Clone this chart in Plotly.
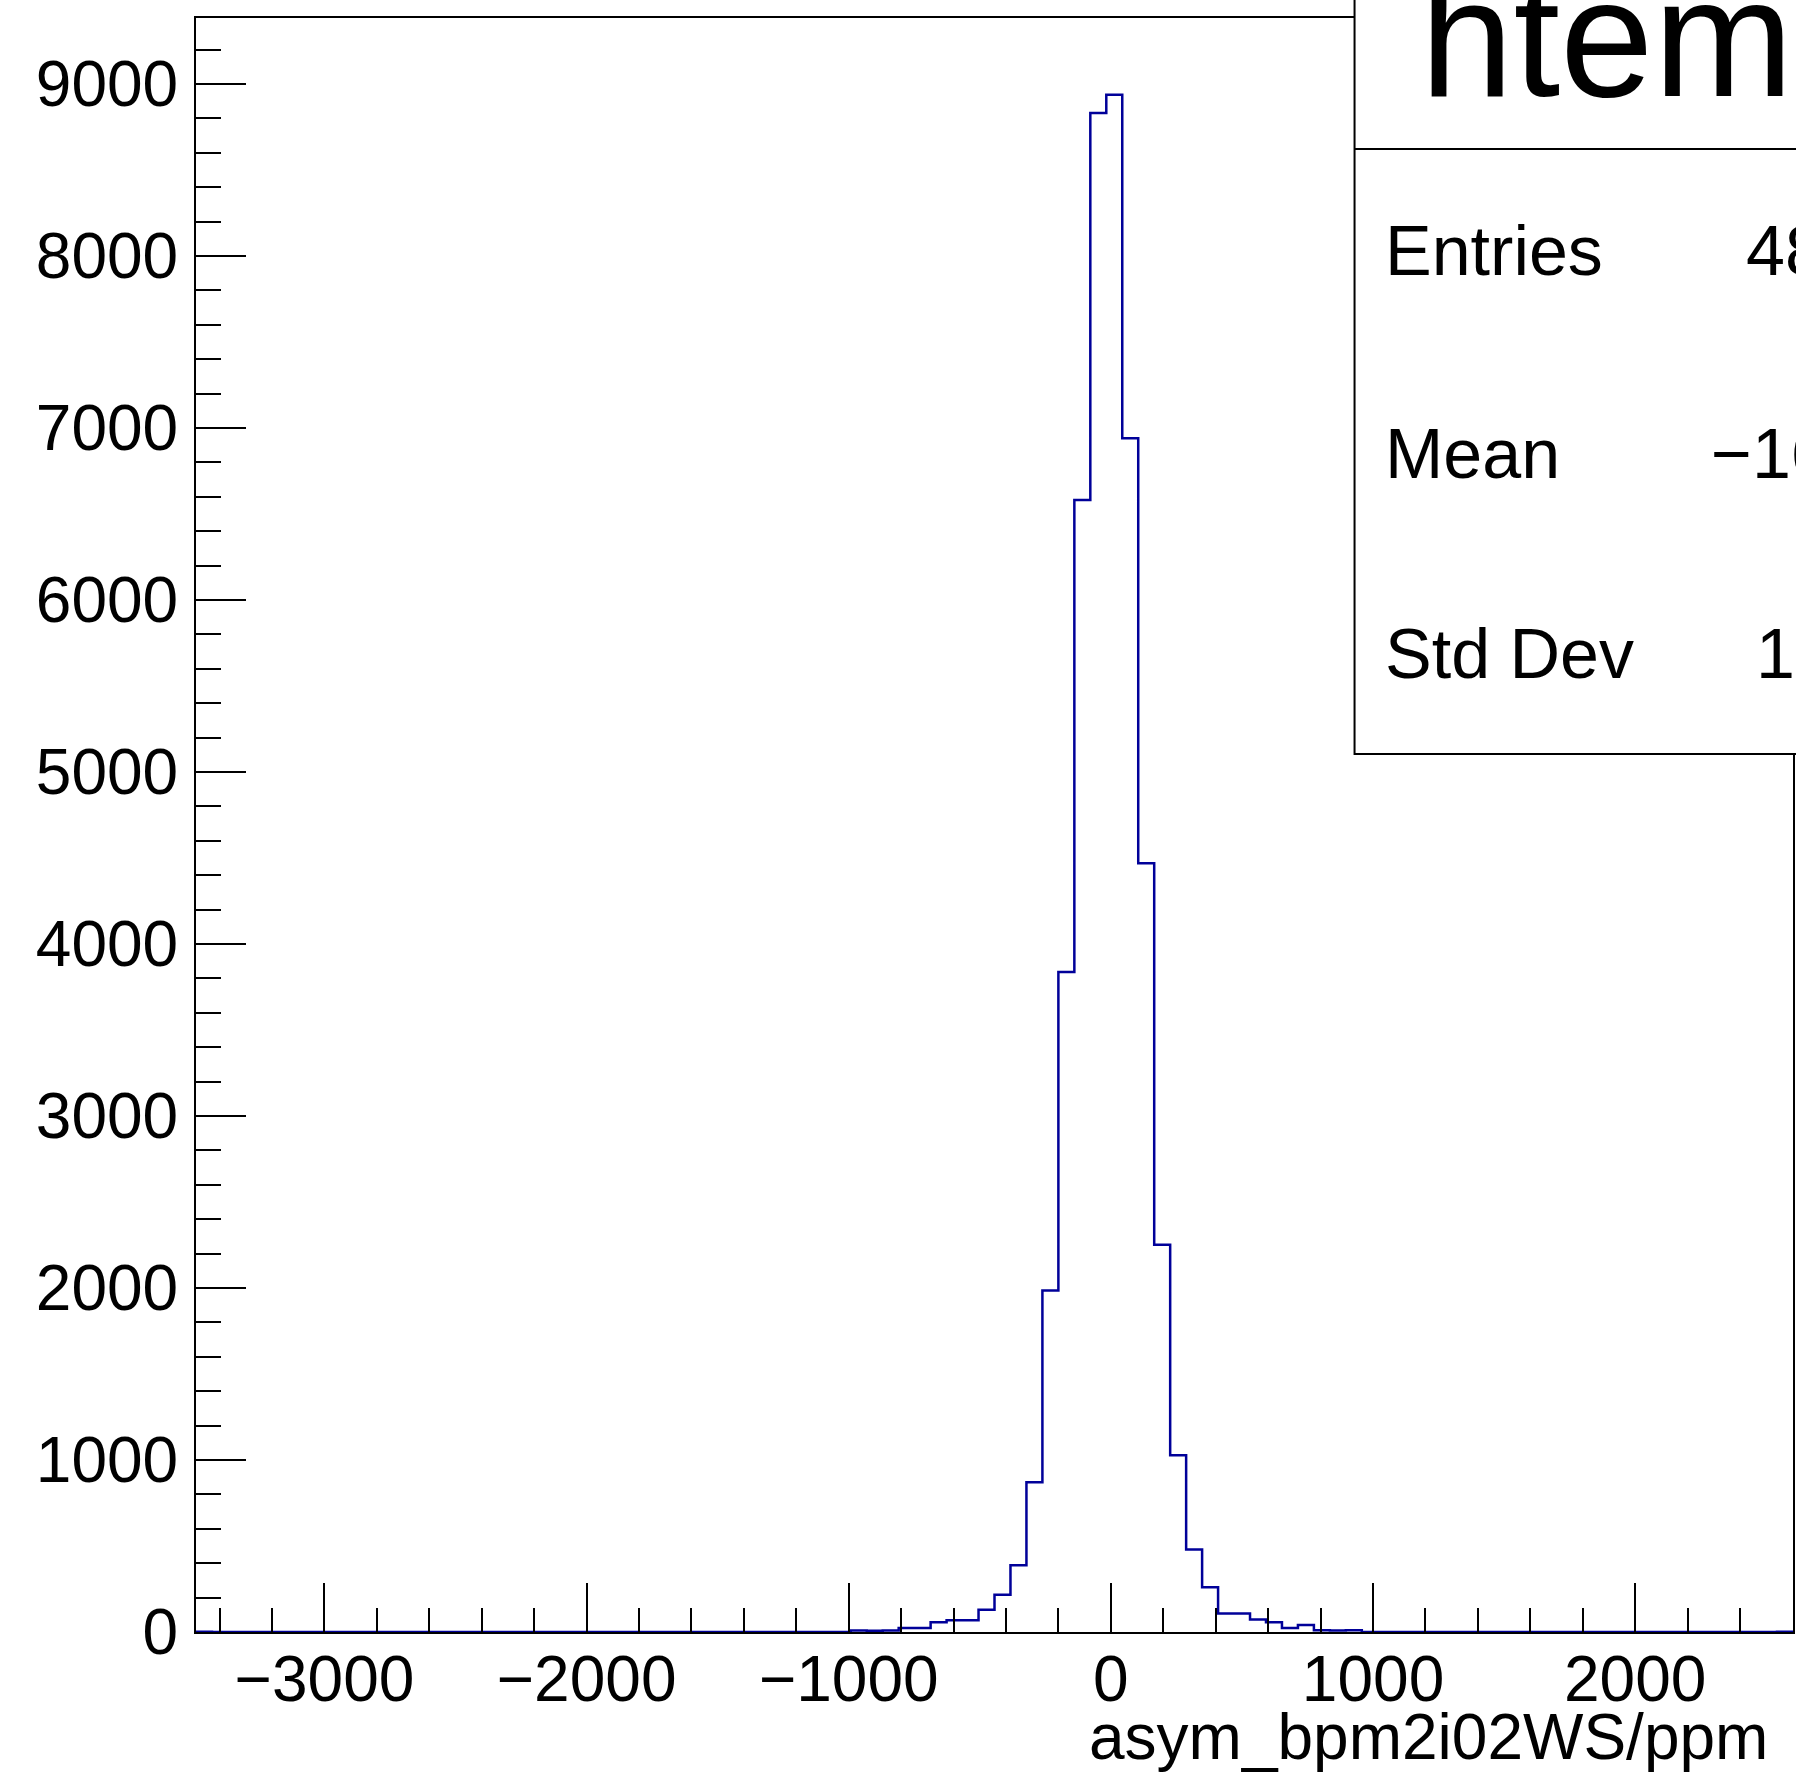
import plotly.graph_objects as go

# ---- data ----
x_min = -3490.0
x_max = 2602.0
n_bins = 100
counts = ([1] + [0] * 40 +
          [8, 7, 8, 23, 23, 56, 68, 68, 130, 217, 388, 870, 1985, 3837, 6582,
           8832, 8937, 6940, 4470, 2252, 1027, 480, 260, 107, 107, 72, 56, 23,
           41, 10, 9, 10] +
          [0] * 26 + [1])
x_tick_vals = [-3000, -2000, -1000, 0, 1000, 2000]
x_tick_text = ["\u22123000", "\u22122000", "\u22121000", "0", "1000", "2000"]
y_tick_vals = [0, 1000, 2000, 3000, 4000, 5000, 6000, 7000, 8000, 9000]
y_tick_text = [str(v) for v in y_tick_vals]
x_title = "asym_bpm2i02WS/ppm"
hist_name = "htemp"
stat_labels = ["Entries", "Mean", "Std Dev"]
stat_values = ["48004", "\u221216.12", "166.8"]

# ---- layout geometry (page pixels; body margin removed by post_script) ----
W, H = 1796, 1772
FRAME_L, FRAME_R, FRAME_T, FRAME_B = 196, 1795, 18, 1632
L = FRAME_L
T = FRAME_T
PW = FRAME_R - FRAME_L
PH = FRAME_B - FRAME_T
R = W - L - PW
B = H - T - PH


def px(x):
    return (x - FRAME_L) / PW


def py(y):
    return (FRAME_B - y) / PH


bin_w = (x_max - x_min) / n_bins
edges = [x_min + i * bin_w for i in range(n_bins + 1)]
xs = [edges[0]] + edges[:-1] + [edges[-1], edges[-1]]
ys = [0] + counts + [counts[-1], 0]

FONT = "Liberation Sans, Arial, Helvetica, sans-serif"

fig = go.Figure()
fig.add_trace(go.Scatter(x=xs, y=ys, mode="lines",
                         line=dict(shape="hv", color="#000099", width=2.5),
                         hoverinfo="skip", showlegend=False))

axis_common = dict(showline=True, linecolor="black", linewidth=2, mirror=True,
                   ticks="inside", tickcolor="black", tickwidth=2,
                   showgrid=False, zeroline=False,
                   tickfont=dict(family=FONT, size=64, color="black"))

fig.update_layout(
    width=W, height=H, autosize=False,
    margin=dict(l=L, r=R, t=T, b=B, pad=0),
    paper_bgcolor="white", plot_bgcolor="white",
    font=dict(family=FONT, color="black"),
    xaxis=dict(range=[x_min, x_max], tickvals=x_tick_vals, ticktext=x_tick_text,
               ticklen=49, ticklabelstandoff=-10,
               minor=dict(ticks="inside", ticklen=24, tickwidth=2, tickcolor="black",
                          dtick=200, tick0=0, showgrid=False),
               **axis_common),
    yaxis=dict(range=[0, max(counts) * 1.05], tickvals=y_tick_vals, ticktext=y_tick_text,
               ticklen=50, ticklabelstandoff=3,
               minor=dict(ticks="inside", ticklen=25, tickwidth=2, tickcolor="black",
                          dtick=200, tick0=0, showgrid=False),
               **axis_common),
)

# x-axis title, right aligned at frame end
fig.add_annotation(text=x_title, xref="paper", yref="paper",
                   x=px(1772), y=py(1737), xanchor="right", yanchor="middle",
                   showarrow=False, font=dict(family=FONT, size=64, color="black"))

# stats box (extends past the canvas edge)
fig.add_shape(type="rect", xref="paper", yref="paper",
              x0=px(1356), x1=px(2100), y0=py(754), y1=py(-20),
              line=dict(color="black", width=2), fillcolor="white", layer="above")
fig.add_shape(type="line", xref="paper", yref="paper",
              x0=px(1356), x1=px(2100), y0=py(149), y1=py(149),
              line=dict(color="black", width=2), layer="above")

fig.add_annotation(text=hist_name, xref="paper", yref="paper",
                   x=px(1420), y=py(38), xanchor="left", yanchor="middle",
                   showarrow=False, font=dict(family=FONT, size=168, color="black"))

stat_y = [251, 454, 654]
value_x = [1746, 1711, 1756]
for lab, val, yy, vx in zip(stat_labels, stat_values, stat_y, value_x):
    fig.add_annotation(text=lab, xref="paper", yref="paper", x=px(1384), y=py(yy),
                       xanchor="left", yanchor="middle", showarrow=False,
                       font=dict(family=FONT, size=70, color="black"))
    fig.add_annotation(text=val, xref="paper", yref="paper", x=px(vx), y=py(yy),
                       xanchor="left", yanchor="middle", showarrow=False,
                       font=dict(family=FONT, size=70, color="black"))

fig.write_html("out.html",
               config={"displayModeBar": False},
               post_script="document.body.style.margin='0';"
                           "document.body.style.overflow='hidden';")
